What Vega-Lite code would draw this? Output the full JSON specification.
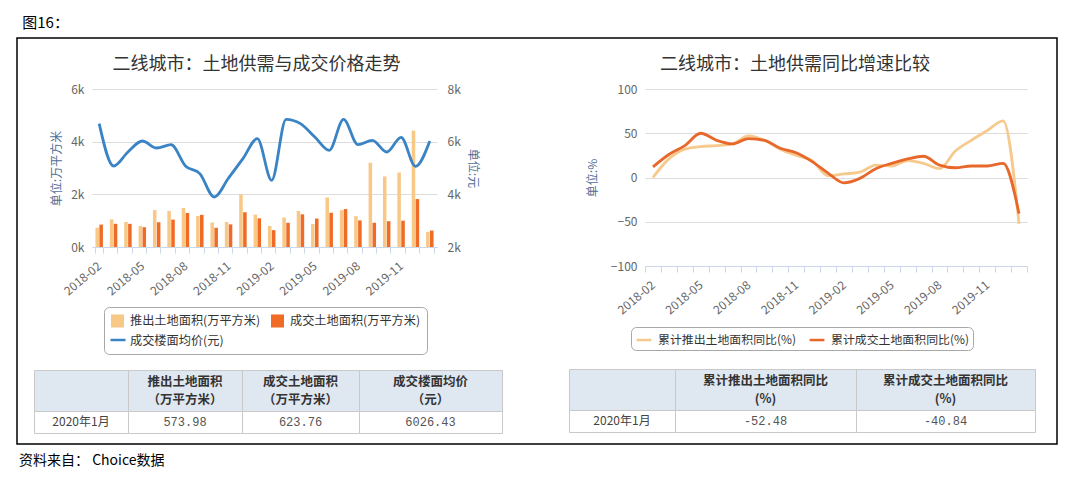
{
  "$schema": "https://vega.github.io/schema/vega-lite/v6.json",
  "background": "white",
  "padding": {"left": 16, "top": 16, "right": 0, "bottom": 0},
  "title": {"text": "图16：", "anchor": "start", "fontSize": 15, "fontWeight": "normal", "color": "#000", "offset": 6, "dx": 6},
  "columns": 1,
  "align": "none",
  "spacing": -413,
  "resolve": {"scale": {"color": "independent", "fill": "independent", "stroke": "independent"}, "legend": {"color": "independent", "fill": "independent", "stroke": "independent"}},
  "datasets": {
    "left": [
      {"month": "2018-02", "supply": 730, "deal": 850, "price": 6684},
      {"month": "2018-03", "supply": 1050, "deal": 880, "price": 5076},
      {"month": "2018-04", "supply": 950, "deal": 880, "price": 5608},
      {"month": "2018-05", "supply": 800, "deal": 750, "price": 6025},
      {"month": "2018-06", "supply": 1400, "deal": 940, "price": 5759},
      {"month": "2018-07", "supply": 1370, "deal": 1040, "price": 5886},
      {"month": "2018-08", "supply": 1480, "deal": 1290, "price": 5076},
      {"month": "2018-09", "supply": 1180, "deal": 1220, "price": 4785},
      {"month": "2018-10", "supply": 930, "deal": 730, "price": 3899},
      {"month": "2018-11", "supply": 950, "deal": 860, "price": 4620},
      {"month": "2018-12", "supply": 2000, "deal": 1320, "price": 5354},
      {"month": "2019-01", "supply": 1230, "deal": 1090, "price": 6114},
      {"month": "2019-02", "supply": 800, "deal": 640, "price": 4532},
      {"month": "2019-03", "supply": 1120, "deal": 920, "price": 6848},
      {"month": "2019-04", "supply": 1370, "deal": 1240, "price": 6684},
      {"month": "2019-05", "supply": 870, "deal": 1080, "price": 6177},
      {"month": "2019-06", "supply": 1880, "deal": 1300, "price": 5671},
      {"month": "2019-07", "supply": 1400, "deal": 1440, "price": 6848},
      {"month": "2019-08", "supply": 1170, "deal": 1010, "price": 5886},
      {"month": "2019-09", "supply": 3200, "deal": 920, "price": 6051},
      {"month": "2019-10", "supply": 2680, "deal": 980, "price": 5608},
      {"month": "2019-11", "supply": 2830, "deal": 1000, "price": 6165},
      {"month": "2019-12", "supply": 4420, "deal": 1820, "price": 5063},
      {"month": "2020-01", "supply": 573.98, "deal": 623.76, "price": 6026.43}
    ],
    "right": [
      {"month": "2018-02", "supplyYoy": 0, "dealYoy": 12},
      {"month": "2018-03", "supplyYoy": 21, "dealYoy": 26},
      {"month": "2018-04", "supplyYoy": 32, "dealYoy": 36},
      {"month": "2018-05", "supplyYoy": 35, "dealYoy": 50},
      {"month": "2018-06", "supplyYoy": 36, "dealYoy": 42},
      {"month": "2018-07", "supplyYoy": 38, "dealYoy": 38},
      {"month": "2018-08", "supplyYoy": 47, "dealYoy": 44},
      {"month": "2018-09", "supplyYoy": 42, "dealYoy": 42},
      {"month": "2018-10", "supplyYoy": 32, "dealYoy": 33},
      {"month": "2018-11", "supplyYoy": 25, "dealYoy": 28},
      {"month": "2018-12", "supplyYoy": 19, "dealYoy": 18},
      {"month": "2019-01", "supplyYoy": 2, "dealYoy": 5},
      {"month": "2019-02", "supplyYoy": 4, "dealYoy": -6},
      {"month": "2019-03", "supplyYoy": 6, "dealYoy": -1},
      {"month": "2019-04", "supplyYoy": 14, "dealYoy": 10},
      {"month": "2019-05", "supplyYoy": 13, "dealYoy": 16},
      {"month": "2019-06", "supplyYoy": 19, "dealYoy": 21},
      {"month": "2019-07", "supplyYoy": 16, "dealYoy": 24},
      {"month": "2019-08", "supplyYoy": 10, "dealYoy": 14},
      {"month": "2019-09", "supplyYoy": 30, "dealYoy": 11},
      {"month": "2019-10", "supplyYoy": 42, "dealYoy": 13},
      {"month": "2019-11", "supplyYoy": 53, "dealYoy": 13},
      {"month": "2019-12", "supplyYoy": 64, "dealYoy": 16},
      {"month": "2020-01", "supplyYoy": -52.48, "dealYoy": -40.84}
    ]
  },
  "concat": [
    {
      "width": 1040,
      "height": 406,
      "view": {"stroke": "#000", "strokeWidth": 1.5},
      "title": {"text": "资料来自： Choice数据", "orient": "bottom", "anchor": "start", "fontSize": 14, "fontWeight": "normal", "color": "#000", "offset": 10, "dx": 2},
      "data": {"values": [{"t": ""}]},
      "mark": {"type": "text"},
      "encoding": {"text": {"field": "t"}}
    },
    {
      "spacing": 0,
      "resolve": {"scale": {"color": "independent", "fill": "independent", "stroke": "independent"}, "legend": {"color": "independent", "fill": "independent", "stroke": "independent"}},
      "hconcat": [
        {"width": 16, "height": 1, "data": {"values": [{"t": ""}]}, "mark": {"type": "text"}, "encoding": {"text": {"field": "t"}}},
        {
          "spacing": 65,
          "resolve": {"scale": {"color": "independent", "fill": "independent", "stroke": "independent"}, "legend": {"color": "independent", "fill": "independent", "stroke": "independent"}},
          "hconcat": [
            {
              "spacing": 14,
              "resolve": {"scale": {"color": "independent", "fill": "independent", "stroke": "independent"}, "legend": {"color": "independent", "fill": "independent", "stroke": "independent"}},
              "vconcat": [
                {
                  "spacing": 0,
                  "resolve": {"scale": {"color": "independent", "fill": "independent", "stroke": "independent"}, "legend": {"color": "independent", "fill": "independent", "stroke": "independent"}},
                  "hconcat": [
                    {"width": 16, "height": 1, "data": {"values": [{"t": ""}]}, "mark": {"type": "text"}, "encoding": {"text": {"field": "t"}}},
                    {
                      "width": 345,
                      "height": 158,
                      "title": {"text": "二线城市：土地供需与成交价格走势", "fontSize": 18, "fontWeight": "normal", "color": "#333", "offset": 9, "dx": -8},
                      "data": {"name": "left"},
                      "layer": [
                        {
                          "transform": [{"fold": ["supply", "deal"], "as": ["series", "value"]}],
                          "mark": {"type": "bar"},
                          "encoding": {
                            "x": {
                              "field": "month", "type": "ordinal",
                              "scale": {"type": "band", "paddingInner": 0.48, "paddingOuter": 0.24},
                              "axis": {
                                "title": null, "labelAngle": -40, "labelFontSize": 12, "labelColor": "#666", "labelPadding": 11,
                                "labelBaseline": "middle", "labelAlign": "right",
                                "tickBand": "extent", "tickSize": 6, "tickColor": "#ccd6eb", "domainColor": "#ccd6eb", "labelOverlap": false, "zindex": 1, "grid": false,
                                "labelExpr": "indexof(['2018-02','2018-05','2018-08','2018-11','2019-02','2019-05','2019-08','2019-11'], datum.value) >= 0 ? datum.value : ''"
                              }
                            },
                            "xOffset": {"field": "series", "type": "nominal", "sort": ["supply", "deal"], "scale": {"paddingInner": 0.1}},
                            "y": {
                              "field": "value", "type": "quantitative",
                              "scale": {"domain": [0, 6000], "nice": false},
                              "axis": {
                                "title": "单位:万平方米", "titleColor": "#4f7098", "titleFontSize": 12, "titleFontWeight": "normal", "titlePadding": 7,
                                "values": [0, 2000, 4000, 6000], "labelExpr": "datum.value / 1000 + 'k'", "labelColor": "#666", "labelFontSize": 12, "labelPadding": 8,
                                "ticks": false, "domain": false, "grid": true, "gridColor": "#dcdcdc"
                              }
                            },
                            "fill": {
                              "field": "series", "type": "nominal",
                              "scale": {"domain": ["supply", "deal", "price"], "range": ["#f8c887", "#ef6b26", "rgba(0,0,0,0)"]},
                              "legend": {
                                "title": null, "orient": "none", "legendX": 12, "legendY": 218, "direction": "horizontal", "columns": 2, "columnPadding": 9, "rowPadding": 5,
                                "symbolType": "square", "symbolSize": 170, "labelFontSize": 12.2, "labelColor": "#333", "labelLimit": 300, "labelOffset": 5,
                                "strokeColor": "#a8a8a8", "cornerRadius": 5, "padding": 6,
                                "labelExpr": "datum.label == 'supply' ? '推出土地面积(万平方米)' : datum.label == 'deal' ? '成交土地面积(万平方米)' : '成交楼面均价(元)'"
                              }
                            }
                          }
                        },
                        {
                          "mark": {"type": "line", "interpolate": "monotone", "strokeWidth": 2.8},
                          "encoding": {
                            "x": {"field": "month", "type": "ordinal"},
                            "y": {
                              "field": "price", "type": "quantitative",
                              "scale": {"domain": [2000, 8000], "nice": false},
                              "axis": {
                                "orient": "right", "title": "单位:元", "titleColor": "#4f7098", "titleFontSize": 12, "titleFontWeight": "normal", "titlePadding": 5,
                                "values": [2000, 4000, 6000, 8000], "labelExpr": "datum.value / 1000 + 'k'", "labelColor": "#666", "labelFontSize": 12, "labelPadding": 10,
                                "ticks": false, "domain": false, "grid": false
                              }
                            },
                            "stroke": {
                              "datum": "price", "type": "nominal",
                              "scale": {"domain": ["price"], "range": ["#3a83c5"]},
                              "legend": {
                                "title": null, "orient": "none", "legendX": 17, "legendY": 242, "direction": "horizontal",
                                "symbolType": "stroke", "symbolSize": 225, "symbolStrokeWidth": 2.5, "labelFontSize": 12.2, "labelColor": "rgba(0,0,0,0)", "labelOffset": 5,
                                "padding": 0, "labelExpr": "'成交楼面均价(元)'"
                              }
                            }
                          }
                        }
                      ],
                      "resolve": {"scale": {"y": "independent"}}
                    }
                  ]
                },
                {
                  "columns": 4,
                  "spacing": 0,
                  "bounds": "flush",
                  "concat": [
                    {"width": 94, "height": 41, "view": {"fill": "#dfe7f0", "stroke": "#c9c9c9"}, "data": {"values": [{"t": ""}]}, "mark": {"type": "text"}, "encoding": {"text": {"field": "t"}}},
                    {"width": 114, "height": 41, "view": {"fill": "#dfe7f0", "stroke": "#c9c9c9"}, "data": {"values": [{"t": "推出土地面积\n（万平方米）"}]}, "mark": {"type": "text", "fontWeight": "bold", "fontSize": 12.5, "color": "#333", "lineBreak": "\n", "lineHeight": 17.5, "dy": -8.5}, "encoding": {"text": {"field": "t"}}},
                    {"width": 117, "height": 41, "view": {"fill": "#dfe7f0", "stroke": "#c9c9c9"}, "data": {"values": [{"t": "成交土地面积\n（万平方米）"}]}, "mark": {"type": "text", "fontWeight": "bold", "fontSize": 12.5, "color": "#333", "lineBreak": "\n", "lineHeight": 17.5, "dy": -8.5}, "encoding": {"text": {"field": "t"}}},
                    {"width": 143, "height": 41, "view": {"fill": "#dfe7f0", "stroke": "#c9c9c9"}, "data": {"values": [{"t": "成交楼面均价\n（元）"}]}, "mark": {"type": "text", "fontWeight": "bold", "fontSize": 12.5, "color": "#333", "lineBreak": "\n", "lineHeight": 17.5, "dy": -8.5}, "encoding": {"text": {"field": "t"}}},
                    {"width": 94, "height": 22, "view": {"fill": "#ffffff", "stroke": "#c9c9c9"}, "data": {"values": [{"t": "2020年1月"}]}, "mark": {"type": "text", "fontSize": 12, "color": "#444"}, "encoding": {"text": {"field": "t"}}},
                    {"width": 114, "height": 22, "view": {"fill": "#ffffff", "stroke": "#c9c9c9"}, "data": {"values": [{"t": "573.98"}]}, "mark": {"type": "text", "fontSize": 12, "color": "#555", "font": "Liberation Mono"}, "encoding": {"text": {"field": "t"}}},
                    {"width": 117, "height": 22, "view": {"fill": "#ffffff", "stroke": "#c9c9c9"}, "data": {"values": [{"t": "623.76"}]}, "mark": {"type": "text", "fontSize": 12, "color": "#555", "font": "Liberation Mono"}, "encoding": {"text": {"field": "t"}}},
                    {"width": 143, "height": 22, "view": {"fill": "#ffffff", "stroke": "#c9c9c9"}, "data": {"values": [{"t": "6026.43"}]}, "mark": {"type": "text", "fontSize": 12, "color": "#555", "font": "Liberation Mono"}, "encoding": {"text": {"field": "t"}}}
                  ]
                }
              ]
            },
            {
              "spacing": 17,
              "resolve": {"scale": {"color": "independent", "fill": "independent", "stroke": "independent"}, "legend": {"color": "independent", "fill": "independent", "stroke": "independent"}},
              "vconcat": [
                {
                  "spacing": 0,
                  "resolve": {"scale": {"color": "independent", "fill": "independent", "stroke": "independent"}, "legend": {"color": "independent", "fill": "independent", "stroke": "independent"}},
                  "hconcat": [
                    {"width": 17, "height": 1, "data": {"values": [{"t": ""}]}, "mark": {"type": "text"}, "encoding": {"text": {"field": "t"}}},
                    {
                      "width": 382,
                      "height": 177,
                      "title": {"text": "二线城市：土地供需同比增速比较", "fontSize": 18, "fontWeight": "normal", "color": "#333", "offset": 9, "dx": -41},
                      "data": {"name": "right"},
                      "transform": [{"fold": ["supplyYoy", "dealYoy"], "as": ["series", "value"]}],
                      "mark": {"type": "line", "interpolate": "monotone", "strokeWidth": 2.8},
                      "encoding": {
                        "x": {
                          "field": "month", "type": "ordinal",
                          "scale": {"type": "band", "paddingInner": 0, "paddingOuter": 0},
                          "axis": {
                            "title": null, "labelAngle": -40, "labelFontSize": 12, "labelColor": "#666", "labelPadding": 11,
                            "labelBaseline": "middle", "labelAlign": "right",
                            "tickBand": "extent", "tickSize": 6, "tickColor": "#ccd6eb", "domainColor": "#ccd6eb", "labelOverlap": false, "zindex": 1, "grid": false,
                            "labelExpr": "indexof(['2018-02','2018-05','2018-08','2018-11','2019-02','2019-05','2019-08','2019-11'], datum.value) >= 0 ? datum.value : ''"
                          }
                        },
                        "y": {
                          "field": "value", "type": "quantitative",
                          "scale": {"domain": [-100, 100], "nice": false},
                          "axis": {
                            "title": "单位:%", "titleColor": "#4f7098", "titleFontSize": 12, "titleFontWeight": "normal", "titlePadding": 11,
                            "values": [-100, -50, 0, 50, 100], "labelColor": "#666", "labelFontSize": 12, "labelPadding": 8,
                            "ticks": false, "domain": false, "grid": true, "gridColor": "#dcdcdc"
                          }
                        },
                        "color": {
                          "field": "series", "type": "nominal",
                          "scale": {"domain": ["supplyYoy", "dealYoy"], "range": ["#f6c98c", "#e8682b"]},
                          "legend": {
                            "title": null, "orient": "none", "legendX": -14, "legendY": 238, "direction": "horizontal", "columnPadding": 8,
                            "symbolType": "stroke", "symbolSize": 220, "symbolStrokeWidth": 2.5, "labelFontSize": 11.9, "labelColor": "#333", "labelLimit": 300, "labelOffset": 5,
                            "strokeColor": "#a8a8a8", "cornerRadius": 5, "padding": 4,
                            "labelExpr": "datum.label == 'supplyYoy' ? '累计推出土地面积同比(%)' : '累计成交土地面积同比(%)'"
                          }
                        }
                      }
                    }
                  ]
                },
                {
                  "columns": 3,
                  "spacing": 0,
                  "bounds": "flush",
                  "concat": [
                    {"width": 106, "height": 41, "view": {"fill": "#dfe7f0", "stroke": "#c9c9c9"}, "data": {"values": [{"t": ""}]}, "mark": {"type": "text"}, "encoding": {"text": {"field": "t"}}},
                    {"width": 181, "height": 41, "view": {"fill": "#dfe7f0", "stroke": "#c9c9c9"}, "data": {"values": [{"t": "累计推出土地面积同比\n(%)"}]}, "mark": {"type": "text", "fontWeight": "bold", "fontSize": 12.5, "color": "#333", "lineBreak": "\n", "lineHeight": 17.5, "dy": -8.5}, "encoding": {"text": {"field": "t"}}},
                    {"width": 179, "height": 41, "view": {"fill": "#dfe7f0", "stroke": "#c9c9c9"}, "data": {"values": [{"t": "累计成交土地面积同比\n(%)"}]}, "mark": {"type": "text", "fontWeight": "bold", "fontSize": 12.5, "color": "#333", "lineBreak": "\n", "lineHeight": 17.5, "dy": -8.5}, "encoding": {"text": {"field": "t"}}},
                    {"width": 106, "height": 22, "view": {"fill": "#ffffff", "stroke": "#c9c9c9"}, "data": {"values": [{"t": "2020年1月"}]}, "mark": {"type": "text", "fontSize": 12, "color": "#444"}, "encoding": {"text": {"field": "t"}}},
                    {"width": 181, "height": 22, "view": {"fill": "#ffffff", "stroke": "#c9c9c9"}, "data": {"values": [{"t": "-52.48"}]}, "mark": {"type": "text", "fontSize": 12, "color": "#555", "font": "Liberation Mono"}, "encoding": {"text": {"field": "t"}}},
                    {"width": 179, "height": 22, "view": {"fill": "#ffffff", "stroke": "#c9c9c9"}, "data": {"values": [{"t": "-40.84"}]}, "mark": {"type": "text", "fontSize": 12, "color": "#555", "font": "Liberation Mono"}, "encoding": {"text": {"field": "t"}}}
                  ]
                }
              ]
            }
          ]
        }
      ]
    }
  ],
  "config": {
    "font": "Noto Sans CJK SC",
    "view": {"stroke": null},
    "axis": {"labelFont": "Noto Sans CJK SC", "titleFont": "Noto Sans CJK SC"},
    "legend": {"labelFont": "Noto Sans CJK SC"}
  }
}
